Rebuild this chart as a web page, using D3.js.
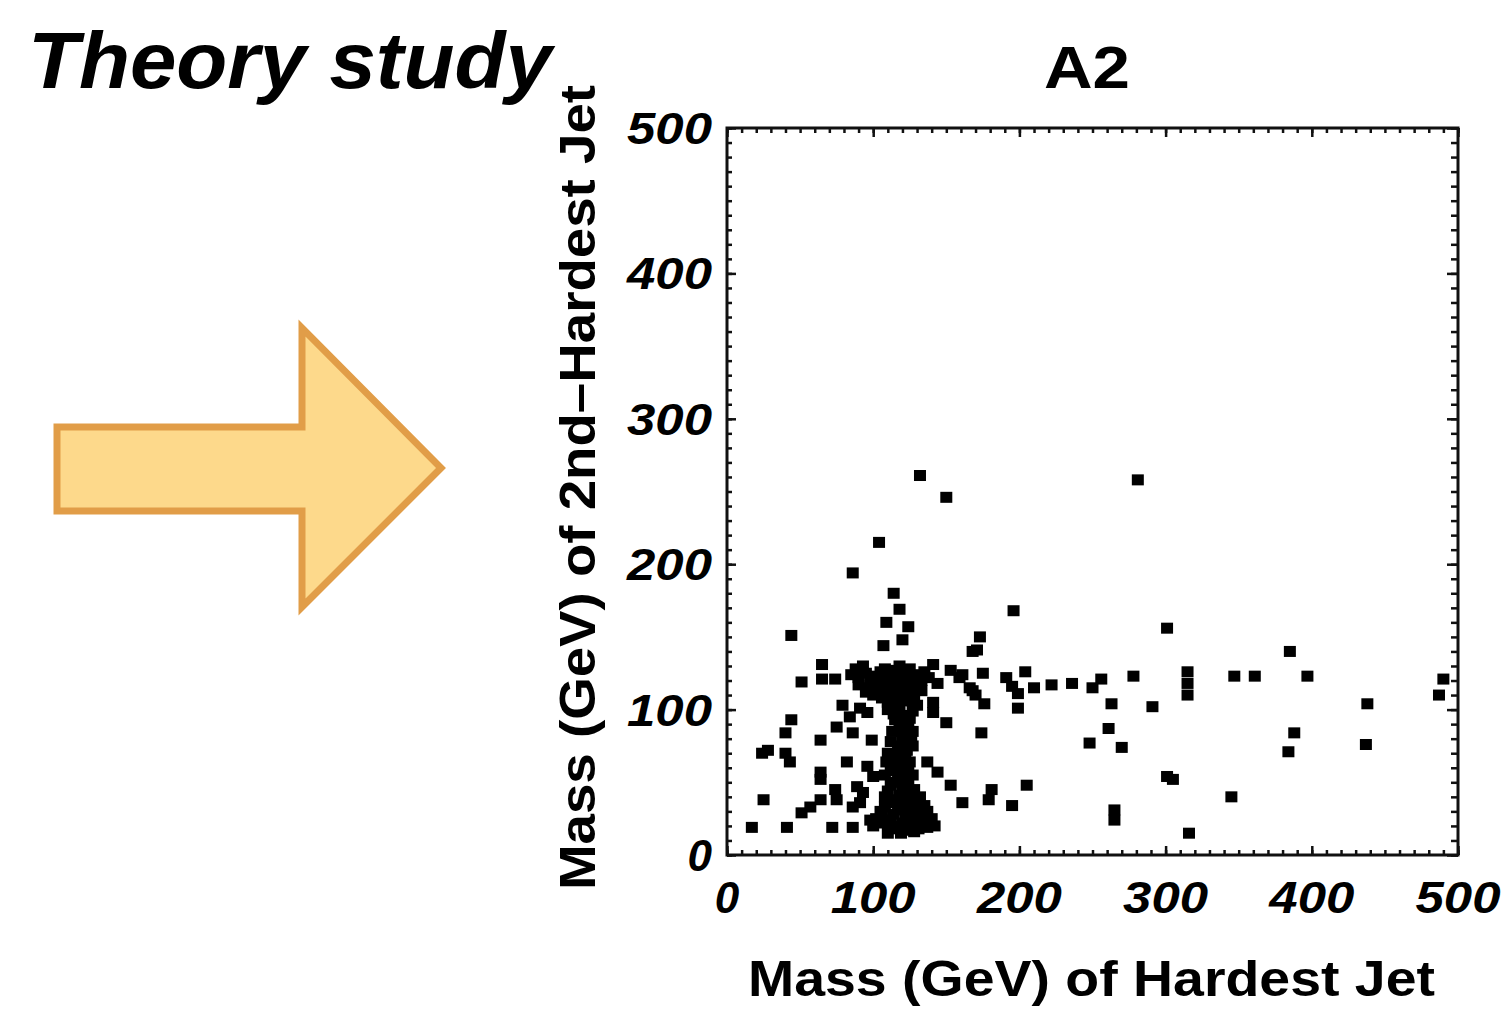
<!DOCTYPE html>
<html>
<head>
<meta charset="utf-8">
<script src="https://cdn.jsdelivr.net/npm/d3@7"></script>
<style>
  body { margin: 0; background: #fff; }
  svg { display: block; }
  text { font-family: "Liberation Sans", Arial, sans-serif; }
</style>
</head>
<body>
<div id="chart"></div>
<script>
// events: [mass of hardest jet, mass of 2nd-hardest jet] in GeV
var sparsePoints = [
  [281,258],[132,261],[150,246],[104,215],[86,194],[196,168],[173,150],[168,140],[301,156],[385,140],
  [114,180],[118,169],[109,160],[124,157],[120,148],[107,144],[44,151],
  [65,131],[51,119],[65,121],[74,121],[141,131],[153,127],[159,122],[144,118],[171,141],[168,113],[141,105],[141,98],[150,91],
  [161,124],[175,125],[191,122],[204,126],[166,115],[170,110],[176,104],[195,116],[199,111],[199,101],[210,115],[222,117],
  [236,118],[250,115],[256,121],[263,104],[278,123],[291,102],[315,126],[315,118],[315,110],
  [174,84],[261,87],[248,77],[270,74],
  [161,36],[181,45],[179,38],[195,34],[205,48],[301,54],[305,52],[265,31],[265,24],[316,15],
  [347,123],[361,123],[397,123],[438,104],[388,84],[384,71],[437,76],[345,40],[487,110],[490,121]
];
var lowPoints = [
  [79,103],[91,101],[96,98],[84,95],[44,93],[40,84],[75,88],[64,79],[86,84],[99,79],[24,70],[28,72],[40,70],[43,64],
  [64,57],[82,64],[96,61],[100,54],[114,58],[124,62],[137,64],[144,57],[153,48],[25,38],[64,52],[74,45],[75,38],[64,38],
  [57,33],[51,29],[89,47],[93,43],[86,33],[91,36],[17,19],[41,19],[72,19],[86,19],[98,24],[132,29],[137,19]
];
var clusterPoints = [
  [85,124],[90,122],[95,125],[100,123],[105,126],[110,124],[115,127],[120,125],[125,128],[130,124],[135,126],
  [90,117],[97,115],[105,117],[112,119],[118,118],[124,120],[130,118],[100,110],[108,112],[115,111],[122,113],[128,110],
  [110,105],[117,104],[124,106],[130,103],[114,97],[121,96],[127,99],[118,90],[124,88],[113,85],[120,82],[126,80],
  [117,75],[123,72],[110,70],[118,66],[125,64],[112,60],[120,57],[127,55],[115,50],[122,47],[110,44],[118,41],[126,40],
  [130,35],[112,36],[120,33],[105,30],[114,28],[122,26],[130,27],[137,30],[108,22],[116,20],[124,19],[133,22],[140,25],
  [102,25],[110,15],[119,15],[128,16],
  [88,128],[93,130],[98,120],[103,119],[108,128],[113,122],[118,130],[123,123],[128,122],[133,120],[138,122],
  [95,112],[103,114],[111,115],[119,114],[126,116],[133,113],[106,108],[113,108],[120,108],[127,106],
  [110,100],[118,100],[125,94],[115,93],[121,86],[127,85],[112,78],[120,78],[127,75],[115,68],[122,69],
  [109,64],[116,62],[123,60],[108,55],[117,53],[124,51],[112,48],[120,44],[128,45],[108,40],[115,38],[123,37],
  [132,40],[108,33],[117,31],[125,31],[135,34],[100,20],[106,27],[112,24],[120,22],[128,24],[136,26],[142,20],
  [113,18],[122,17],[131,18]
];
var majorTicks = [0, 100, 200, 300, 400, 500];
var tickLabels = ["0", "100", "200", "300", "400", "500"];
var minorTicks = d3.range(0, 501, 10);

var W = 1512, H = 1023;
var svg = d3.select("#chart").append("svg")
  .attr("width", W).attr("height", H);
svg.append("rect").attr("width", W).attr("height", H).attr("fill", "#fff");

// title
svg.append("text")
  .attr("x", 28).attr("y", 88)
  .attr("font-size", 80).attr("font-weight", "bold").attr("font-style", "italic")
  .attr("textLength", 524).attr("lengthAdjust", "spacingAndGlyphs")
  .text("Theory study");

// arrow
svg.append("path")
  .attr("d", "M57,427 L302,427 L302,328 L441,468 L302,607 L302,511 L57,511 Z")
  .attr("fill", "#FDD98B").attr("stroke", "#E19D48").attr("stroke-width", 7)
  .attr("stroke-linejoin", "miter");

var x = d3.scaleLinear().domain([0, 500]).range([727, 1458]);
var y = d3.scaleLinear().domain([0, 500]).range([855, 128]);

var g = svg.append("g");

// frame
g.append("rect")
  .attr("x", x(0)).attr("y", y(500))
  .attr("width", x(500) - x(0)).attr("height", y(0) - y(500))
  .attr("fill", "none").attr("stroke", "#111").attr("stroke-width", 3);

function tickAxis(axisFn, scale, vals, size, tx, ty) {
  var ax = axisFn(scale).tickValues(vals).tickSize(size).tickFormat("");
  var a = g.append("g").attr("transform", "translate(" + tx + "," + ty + ")").call(ax);
  a.select(".domain").remove();
  a.selectAll("line").attr("stroke", "#111").attr("stroke-width", 2.5);
}
// inward ticks on all four sides
tickAxis(d3.axisBottom, x, minorTicks, -5, 0, y(0));
tickAxis(d3.axisBottom, x, majorTicks, -9, 0, y(0));
tickAxis(d3.axisTop, x, minorTicks, -5, 0, y(500));
tickAxis(d3.axisTop, x, majorTicks, -9, 0, y(500));
tickAxis(d3.axisLeft, y, minorTicks, -5, x(0), 0);
tickAxis(d3.axisLeft, y, majorTicks, -9, x(0), 0);
tickAxis(d3.axisRight, y, minorTicks, -7, x(500), 0);
tickAxis(d3.axisRight, y, majorTicks, -11, x(500), 0);

// tick labels
function lbl(sel) {
  sel.attr("font-size", 44).attr("font-weight", "bold").attr("font-style", "italic")
    .text(function (d, i) { return tickLabels[i]; })
    .each(function (d, i) {
      if (tickLabels[i].length === 3) {
        d3.select(this).attr("textLength", 85).attr("lengthAdjust", "spacingAndGlyphs");
      }
    });
}
g.selectAll(".xl").data(majorTicks).enter().append("text")
  .attr("x", function (d) { return x(d); })
  .attr("y", 913)
  .attr("text-anchor", "middle")
  .call(lbl);

g.selectAll(".yl").data(majorTicks).enter().append("text")
  .attr("x", 712)
  .attr("y", function (d) { return y(d) + 16; })
  .attr("text-anchor", "end")
  .call(lbl);

// plot title
svg.append("text")
  .attr("x", 1087).attr("y", 88).attr("text-anchor", "middle")
  .attr("font-size", 60).attr("font-weight", "bold")
  .attr("textLength", 86).attr("lengthAdjust", "spacingAndGlyphs")
  .text("A2");

// axis titles
svg.append("text")
  .attr("x", 748).attr("y", 996)
  .attr("font-size", 50).attr("font-weight", "bold")
  .attr("textLength", 687).attr("lengthAdjust", "spacingAndGlyphs")
  .text("Mass (GeV) of Hardest Jet");

svg.append("text")
  .attr("transform", "translate(595,890) rotate(-90)")
  .attr("font-size", 50).attr("font-weight", "bold")
  .attr("textLength", 805).attr("lengthAdjust", "spacingAndGlyphs")
  .text("Mass (GeV) of 2nd\u2013Hardest Jet");

// points
var allPoints = sparsePoints.concat(lowPoints, clusterPoints);
g.selectAll(".pt").data(allPoints).enter().append("rect")
  .attr("class", "pt")
  .attr("x", function (d) { return x(d[0]) - 6; })
  .attr("y", function (d) { return y(d[1]) - 5.5; })
  .attr("width", 12).attr("height", 11)
  .attr("fill", "#000");
</script>
</body>
</html>
